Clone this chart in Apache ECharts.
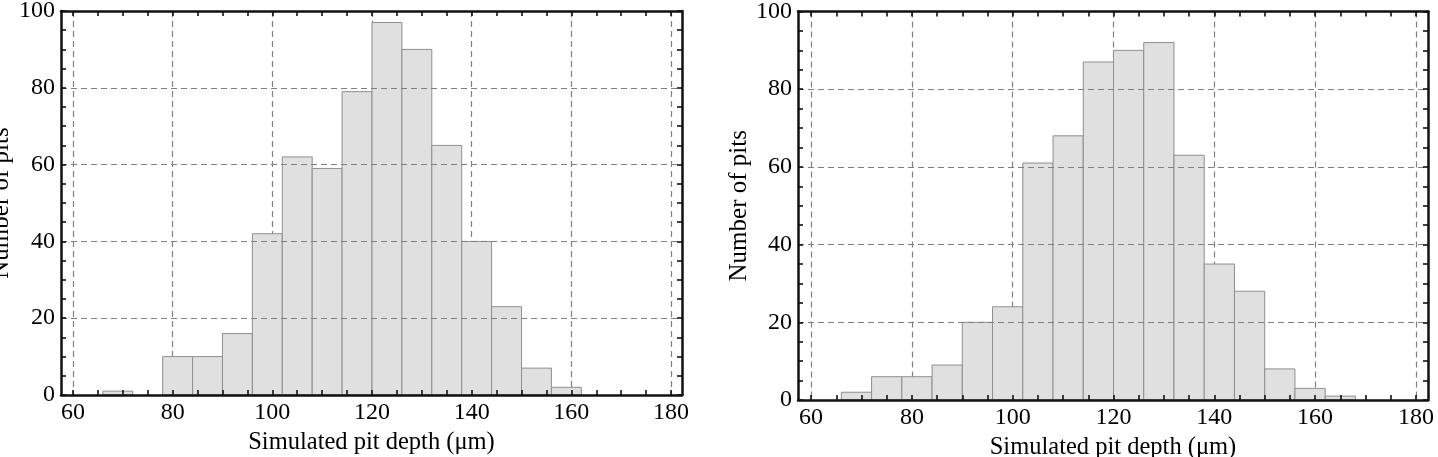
<!DOCTYPE html>
<html>
<head>
<meta charset="utf-8">
<script src="https://cdn.jsdelivr.net/npm/echarts@6/dist/echarts.min.js"></script>
<style>
  html, body { margin: 0; padding: 0; background: #fff; }
  #chart { width: 1438px; height: 457px; }
</style>
</head>
<body>
<div id="chart"></div>
<script>
// histogram bins (left edge of each 6 um bin) and counts
const binWidth = 6
const leftBins = [66, 72, 78, 84, 90, 96, 102, 108, 114, 120, 126, 132, 138, 144, 150, 156]
const leftCounts = [1, 0, 10, 10, 16, 42, 62, 59, 79, 97, 90, 65, 40, 23, 7, 2]
const rightBins = [66, 72, 78, 84, 90, 96, 102, 108, 114, 120, 126, 132, 138, 144, 150, 156, 162]
const rightCounts = [2, 6, 6, 9, 20, 24, 61, 68, 87, 90, 92, 63, 35, 28, 8, 3, 1]

const xLabels = [60, 80, 100, 120, 140, 160, 180]
const xMinor = [60, 65, 70, 75, 80, 85, 90, 95, 100, 105, 110, 115, 120,
  125, 130, 135, 140, 145, 150, 155, 160, 165, 170, 175, 180]

const xName = 'Simulated pit depth (μm)'
const yName = 'Number of pits'

const font = '"Liberation Serif", "Times New Roman", serif'
const ink = '#000'
const frame = { show: true, onZero: false, lineStyle: { color: '#111', width: 2.5 } }
const tick = { show: true, inside: true, length: 5, lineStyle: { color: '#111', width: 1.6 } }
const dashed = { show: true, lineStyle: { color: '#808080', width: 1.2, type: [6, 4] } }

const panels = [
  { grid: { left: 61, top: 11, width: 621, height: 384 }, xMin: 57.6, xMax: 182.2, yGap: 47, bins: leftBins, counts: leftCounts },
  { grid: { left: 798, top: 11.5, width: 630, height: 388.5 }, xMin: 57.4, xMax: 182.4, yGap: 31, bins: rightBins, counts: rightCounts }
]

const histItem = (params, api) => {
  const x0 = api.value(0)
  const n = api.value(1)
  if (!n) return null
  const p0 = api.coord([x0, n])
  const p1 = api.coord([x0 + binWidth, 0])
  return {
    type: 'rect',
    shape: { x: p0[0], y: p0[1], width: p1[0] - p0[0], height: p1[1] - p0[1] },
    style: { fill: '#e0e0e0', stroke: '#8f8f8f', lineWidth: 1 }
  }
}

const option = {
  animation: false,
  textStyle: { fontFamily: font, color: ink },
  grid: [],
  xAxis: [],
  yAxis: [],
  series: []
}

panels.forEach((p, i) => {
  option.grid.push(Object.assign({ outerBoundsMode: 'none', containLabel: false }, p.grid))
  // bottom axis: labels, minor ticks, frame
  option.xAxis.push({
    type: 'value', gridIndex: i, position: 'bottom', min: p.xMin, max: p.xMax, z: 10,
    name: xName, nameLocation: 'middle', nameGap: 30,
    nameTextStyle: { fontFamily: font, fontSize: 24.5, color: ink },
    axisLine: frame,
    axisTick: Object.assign({}, tick, { customValues: xMinor }),
    axisLabel: { customValues: xLabels, margin: 6, fontFamily: font, fontSize: 24, color: ink },
    splitLine: { show: false }
  })
  // top axis: frame + ticks
  option.xAxis.push({
    type: 'value', gridIndex: i, position: 'top', min: p.xMin, max: p.xMax, z: 10,
    axisLine: frame,
    axisTick: Object.assign({}, tick, { customValues: xMinor }),
    axisLabel: { show: false },
    splitLine: { show: false }
  })
  // hidden axis that only draws the dashed grid lines
  option.xAxis.push({
    type: 'value', gridIndex: i, position: 'bottom', min: p.xMin, max: p.xMax,
    axisLine: { show: false },
    axisTick: { show: false, customValues: xLabels },
    axisLabel: { show: false },
    splitLine: dashed
  })
  option.yAxis.push({
    type: 'value', gridIndex: i, position: 'left', min: 0, max: 100, interval: 20, z: 10,
    name: yName, nameLocation: 'middle', nameGap: p.yGap,
    nameTextStyle: { fontFamily: font, fontSize: 25, color: ink },
    axisLine: frame,
    axisTick: tick,
    minorTick: { show: true, splitNumber: 4, length: 5, lineStyle: { color: '#111', width: 1.6 } },
    axisLabel: { margin: 6, fontFamily: font, fontSize: 24, color: ink },
    splitLine: dashed
  })
  option.yAxis.push({
    type: 'value', gridIndex: i, position: 'right', min: 0, max: 100, interval: 20, z: 10,
    axisLine: frame,
    axisTick: tick,
    minorTick: { show: true, splitNumber: 4, length: 5, lineStyle: { color: '#111', width: 1.6 } },
    axisLabel: { show: false },
    splitLine: { show: false }
  })
  option.series.push({
    type: 'custom',
    xAxisIndex: i * 3,
    yAxisIndex: i * 2,
    renderItem: histItem,
    encode: { x: 0, y: 1 },
    data: p.bins.map((b, k) => [b, p.counts[k]])
  })
})

const chart = echarts.init(document.getElementById('chart'))
chart.setOption(option)
</script>
</body>
</html>
